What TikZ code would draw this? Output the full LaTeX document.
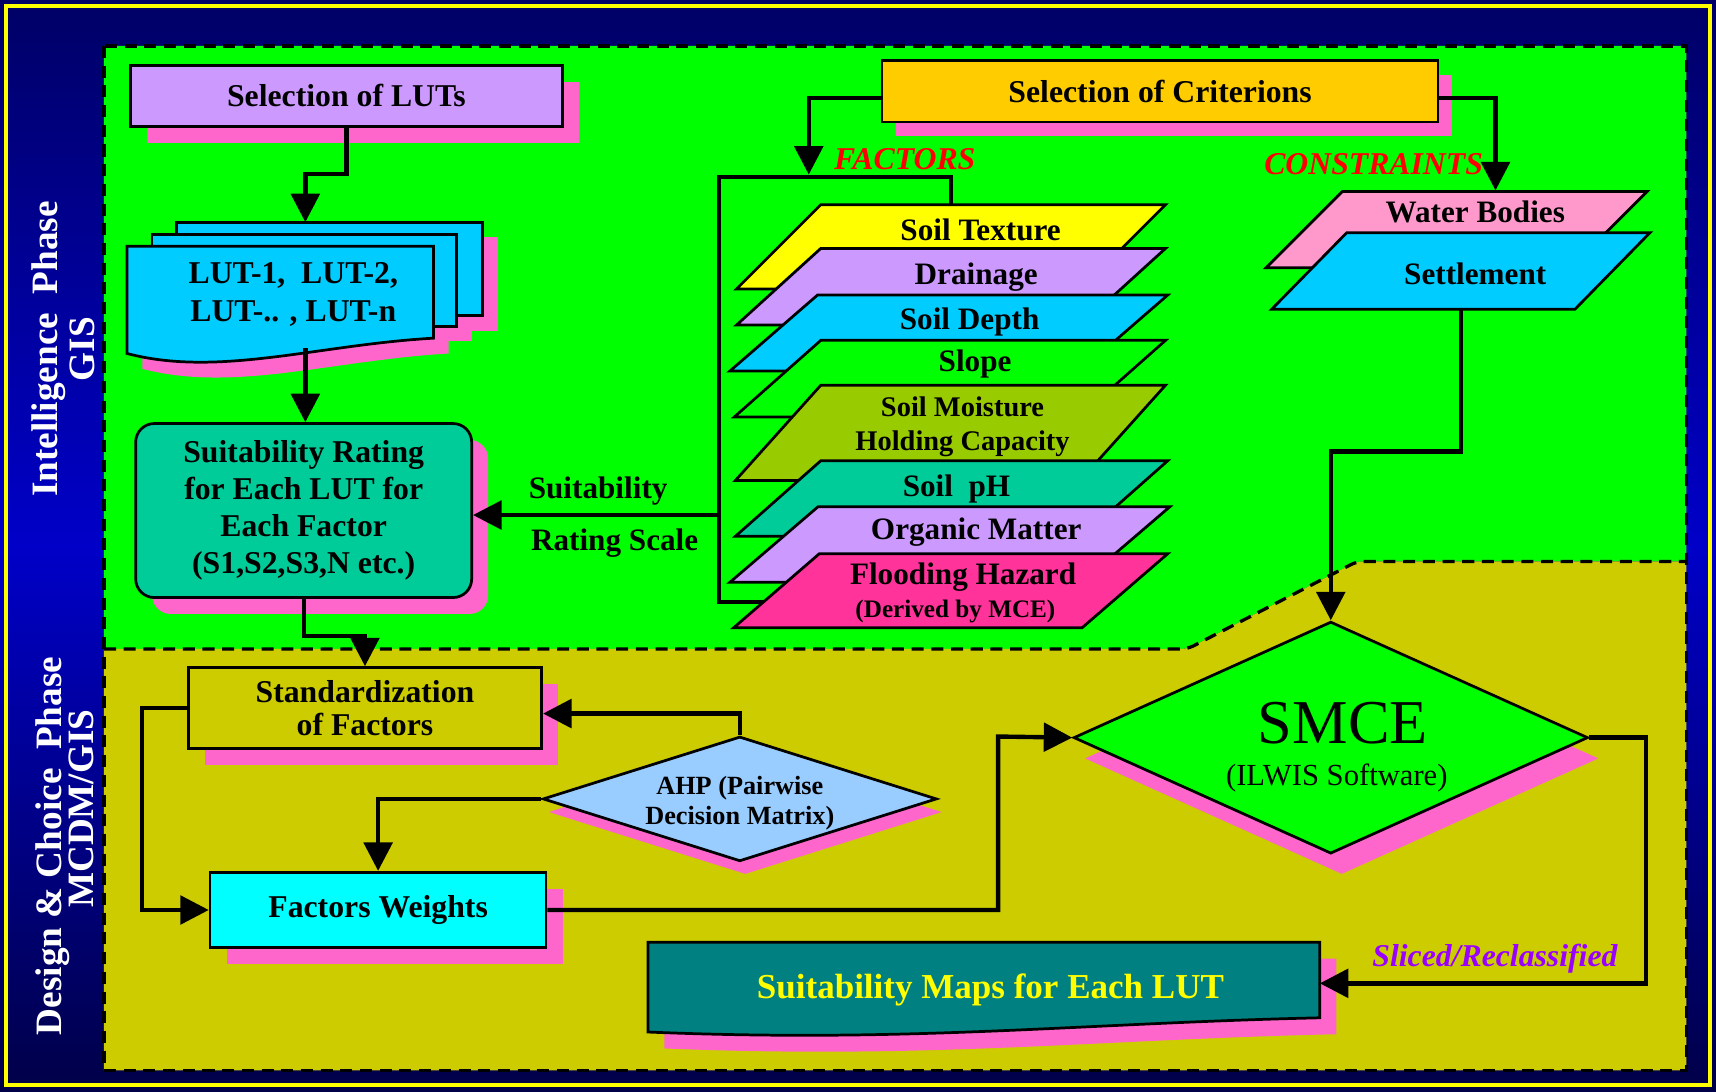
\documentclass[tikz,border=0pt]{standalone}
\usepackage{fontspec}
\setmainfont{Liberation Serif}
\usetikzlibrary{shapes.geometric, arrows.meta, shadows, calc}

\definecolor{navytop}{HTML}{000066}
\definecolor{navymid}{HTML}{0000C8}
\definecolor{navybot}{HTML}{000048}
\definecolor{bgreen}{HTML}{00FF00}
\definecolor{olive}{HTML}{CCCC00}
\definecolor{shpink}{HTML}{FF66CC}
\definecolor{lav}{HTML}{CC99FF}
\definecolor{gold}{HTML}{FFCC00}
\definecolor{sky}{HTML}{00CCFF}
\definecolor{aqua}{HTML}{00FFFF}
\definecolor{sea}{HTML}{00CC99}
\definecolor{lblue}{HTML}{99CCFF}
\definecolor{tealb}{HTML}{008080}
\definecolor{yel}{HTML}{FFFF00}
\definecolor{moss}{HTML}{99CC00}
\definecolor{rose}{HTML}{FF3399}
\definecolor{pinkl}{HTML}{FF99CC}
\definecolor{purp}{HTML}{9900FF}
\definecolor{redt}{HTML}{FF0000}

\newcommand{\fs}[2]{\fontsize{#1}{#2}\selectfont\bfseries}
\newcommand{\lyr}[6]{\filldraw[layer, fill=#1] (#4,#2) -- (#5,#2) -- ({#6+#5-#4},#3) -- (#6,#3) -- cycle;}

\tikzset{
  box/.style={draw=black, line width=2.5pt, inner sep=0pt, align=center, font=\fs{29}{34}},
  pshadow/.style={general shadow={fill=shpink, shadow xshift=#1, shadow yshift=-#1}},
  arr/.style={line width=4pt, -{Triangle[length=26pt,width=26pt]}},
  conn/.style={line width=4pt},
  layer/.style={draw=black, line width=2.5pt, line join=miter},
  page/.style={draw=black, line width=2.5pt, fill=sky},
  lbl/.style={font=\fs{28.5}{33}, anchor=base, inner sep=0pt},
  ital/.style={font=\fs{29}{33}\itshape, inner sep=0pt},
  ttl/.style={text=white, font=\fs{34}{40}, anchor=base, inner sep=0pt, rotate=90},
  dashline/.style={line width=3pt, dash pattern=on 11pt off 7pt},
}

\begin{document}
\begin{tikzpicture}[x=1pt,y=-1pt]
\useasboundingbox (0,0) rectangle (1568,997);
\shade[top color=navytop, bottom color=navybot, middle color=navymid] (0,0) rectangle (1568,997);
\draw[yel, line width=4pt] (5.5,5.5) rectangle (1562.5,991.5);

% phase regions
\fill[bgreen] (95,42) -- (1541,42) -- (1541,513) [rounded corners=6pt] -- (1240,513) -- (1085,593) [sharp corners] -- (95,593) -- cycle;
\fill[olive] (95,593) [rounded corners=6pt] -- (1085,593) -- (1240,513) [sharp corners] -- (1541,513) -- (1541,978) -- (95,978) -- cycle;
\draw[dashline] (95,42) rectangle (1541,978);
\draw[dashline, rounded corners=6pt] (95,593) -- (1085,593) -- (1240,513) -- (1541,513);

% phase titles
\node[ttl] (ttlA) at (52.5,319) {Intelligence~~Phase};
\node[ttl] (ttlB) at (86.8,319) {GIS};
\node[ttl] (ttlC) at (56,773) {Design \& Choice~~Phase};
\node[ttl] (ttlD) at (85.7,739) {MCDM/GIS};

% factor group bracket
\coordinate (brkTR) at (869,187);
\coordinate (facN) at (739,159.5);
\coordinate (brk) at (657,470.6);
\draw[conn] (brkTR) -- (869,161.5) -- (657,161.5) -- (657,550) -- (720,550);

% factor layers
\lyr{yel}{187}{264}{750}{1065}{673}
\lyr{lav}{227}{297}{750}{1065}{673}
\lyr{sky}{269.6}{339}{747}{1067}{667}
\lyr{bgreen}{311}{381}{750}{1065}{671}
\lyr{moss}{352}{439}{750}{1065}{672}
\lyr{sea}{421}{490}{750}{1067}{672}
\lyr{lav}{463}{532}{747.5}{1069}{667}
\lyr{rose}{506}{573.5}{748.6}{1067}{670.5}
\node[lbl] (f1) at (896,219.9) {Soil Texture};
\node[lbl] (f2) at (892,260.4) {Drainage};
\node[lbl] (f3) at (886,301.5) {Soil Depth};
\node[lbl] (f4) at (891,339.6) {Slope};
\node[lbl, font=\fs{26}{31}, align=center] (f5) at (879.5,411.8) {Soil Moisture\\Holding Capacity};
\node[lbl] (f6) at (874,453.8) {Soil~~pH};
\node[lbl] (f7) at (892,492.8) {Organic Matter};
\node[lbl] (f8) at (880,534.5) {Flooding Hazard};
\node[lbl, font=\fs{23}{27}] (f9) at (873,564) {(Derived by MCE)};

% constraint layers
\lyr{pinkl}{175}{244.6}{1226.6}{1505}{1157}
\lyr{sky}{212.6}{282.6}{1230.6}{1507.7}{1162}
\node[lbl] (c1) at (1348,203.5) {Water Bodies};
\node[lbl] (c2) at (1348,260.4) {Settlement};
\coordinate (wbN) at (1366.5,174);
\coordinate (setS) at (1335,282.6);

% boxes
\node[box, fill=lav, pshadow=15pt, minimum width=395pt, minimum height=56pt] (lut) at (316.5,87.6) {Selection of LUTs};
\node[box, fill=gold, pshadow=13pt, minimum width=508pt, minimum height=56pt] (crit) at (1060,83.5) {Selection of Criterions};
\node[box, fill=sea, rounded corners=17pt, pshadow=15pt, minimum width=307pt, minimum height=159pt, font=\fs{29}{33.7}] (sr) at (277.5,466.5) {Suitability Rating\\for Each LUT for\\Each Factor\\(S1,S2,S3,N etc.)};
\node[box, fill=olive, pshadow=15pt, minimum width=323pt, minimum height=74pt, font=\fs{29}{30.6}] (std) at (333.5,647) {Standardization\\of Factors};
\node[box, fill=aqua, pshadow=15pt, minimum width=307pt, minimum height=69pt] (fw) at (345.5,831.5) {Factors Weights};

% LUT documents
\fill[shpink] (175,217) rectangle (455,302);
\fill[shpink] (153,228) rectangle (431,312);
\fill[shpink] (130,239) -- (410,239) -- (410,323) .. controls (304,329) and (214,359) .. (130,337) -- cycle;
\filldraw[page] (161,203) rectangle (441,288);
\filldraw[page] (139,214) rectangle (417,298);
\filldraw[page] (116,225) -- (396,225) -- (396,309) .. controls (290,315) and (200,345) .. (116,323) -- cycle;
\node[lbl, font=\fs{29}{35}, align=center] (docs) at (268,294) {LUT-1,~~LUT-2,\\LUT-.. , LUT-n};
\coordinate (docN) at (279,203);
\coordinate (docS) at (279,318);

% diamonds
\node[diamond, draw=black, line width=2.5pt, fill=lblue, inner sep=0pt, minimum width=360pt, minimum height=114pt, general shadow={fill=shpink, shadow xshift=5pt, shadow yshift=-12pt}] (ahp) at (676,730) {};
\node[lbl, font=\fs{24}{27.4}, align=center] (ahpt) at (676,753.8) {AHP (Pairwise\\Decision Matrix)};
\node[diamond, draw=black, line width=2.5pt, fill=bgreen, inner sep=0pt, minimum width=470pt, minimum height=212pt, general shadow={fill=shpink, shadow xshift=10pt, shadow yshift=-19pt}] (smce) at (1216,674) {};
\node[anchor=base, inner sep=0pt, font=\fontsize{57}{60}\selectfont] (smcet) at (1227,679.2) {SMCE};
\node[anchor=base, inner sep=0pt, font=\fontsize{28}{32}\selectfont] (ilwis) at (1221.5,717.3) {(ILWIS Software)};

% suitability maps document
\fill[shpink] (607,876) -- (1221,876) -- (1221,945) .. controls (1000,950) and (850,968) .. (607,958) -- cycle;
\filldraw[page, fill=tealb] (592,861) -- (1206,861) -- (1206,930) .. controls (985,935) and (835,953) .. (592,943) -- cycle;
\node[lbl, text=yel, font=\fs{32}{36}] (maps) at (905,912.2) {Suitability Maps for Each LUT};
\coordinate (mapsE) at (1206,898.5);

% labels
\node[lbl, anchor=base west] (rs1) at (483,455.3) {Suitability};
\node[lbl, anchor=base west] (rs2) at (485,502.6) {Rating Scale};
\node[ital, text=redt, anchor=base west] (fact) at (762,155.3) {FACTORS};
\node[ital, text=redt, anchor=base west] (cons) at (1155,159) {CONSTRAINTS};
\node[ital, text=purp, anchor=base] (slc) at (1366,883.3) {Sliced/Reclassified};

% connectors
\draw[arr] (lut.south) -- ++(0,42) -| (docN);
\draw[arr] (docS) -- (docS |- sr.north);
\draw[arr] (sr.south) -- ++(0,34) -| (std.north);
\draw[arr] (brk) -- (brk -| sr.east);
\draw[arr] ([yshift=-6pt]crit.west) -| (facN);
\draw[arr] ([yshift=-6pt]crit.east) -| (wbN);
\draw[arr] (setS) -- (1335,412.7) -| (smce.north);
\draw[arr] (ahp.north) |- ([yshift=-5pt]std.east);
\draw[arr] (ahp.west) -| (fw.north);
\draw[arr] (std.west) -- ++(-41,0) |- (fw.west);
\draw[arr] (fw.east) -| (912,673) -- (smce.west);
\draw[arr] (smce.east) -| (1504,898.5) -- (mapsE);
\end{tikzpicture}
\end{document}
